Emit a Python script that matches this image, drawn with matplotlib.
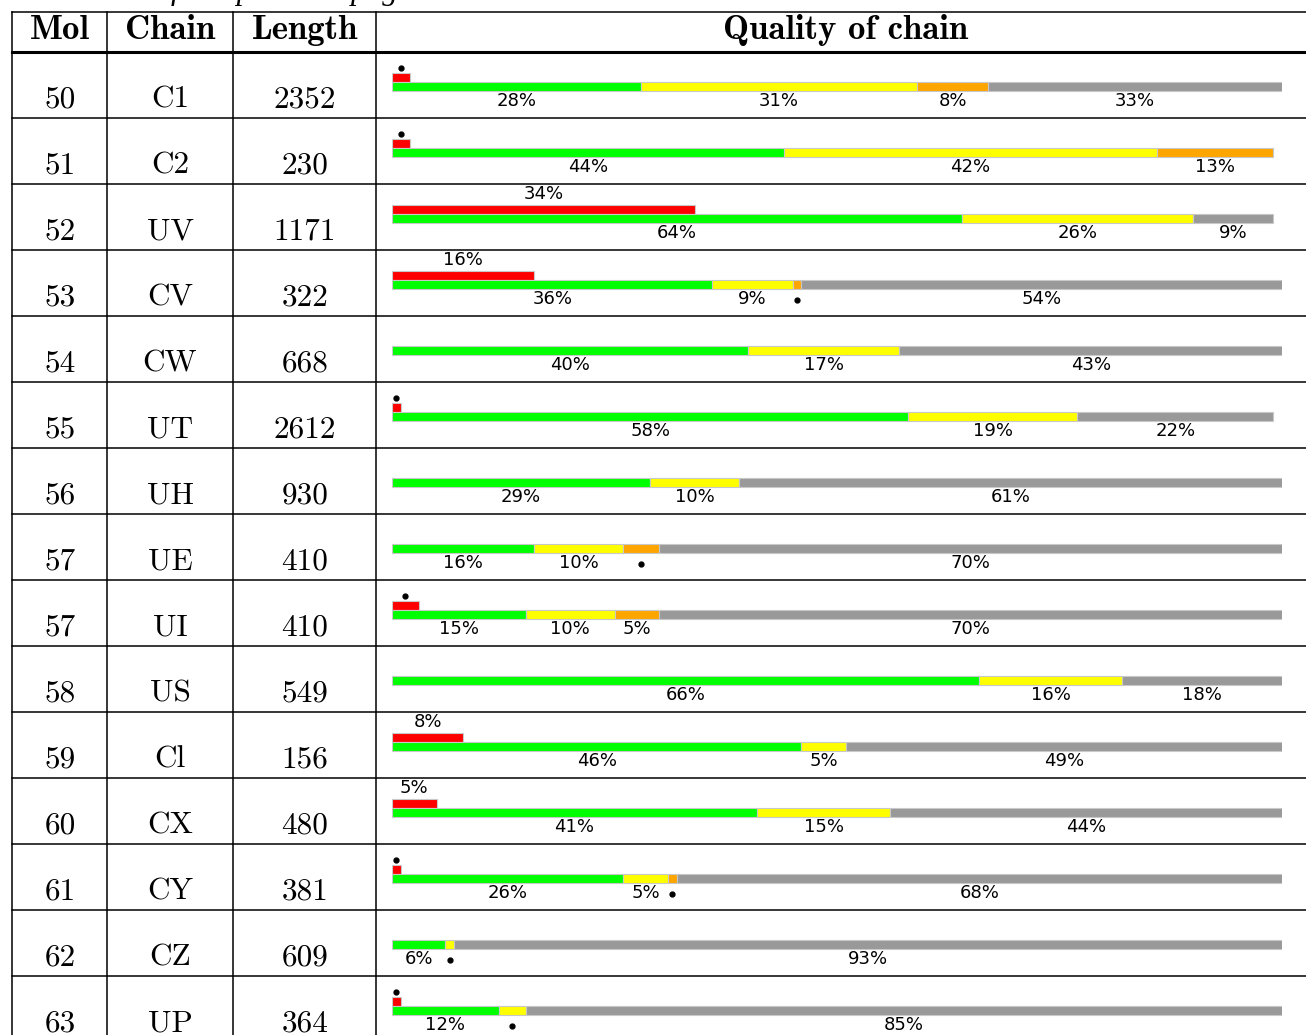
import matplotlib.pyplot as plt
import numpy as np

mols = [50, 51, 52, 53, 54, 55, 56, 57, 57, 58, 59, 60, 61, 62, 63]
chains = ['C1', 'C2', 'UV', 'CV', 'CW', 'UT', 'UH', 'UE', 'UI', 'US', 'Cl', 'CX', 'CY', 'CZ', 'UP']
lengths = [2352, 230, 1171, 322, 668, 2612, 930, 410, 410, 549, 156, 480, 381, 609, 364]

# percentages for each chain
red = [2, 2, 34, 16, 0, 1, 0, 0, 3, 0, 8, 5, 1, 0, 1]
green = [28, 44, 64, 36, 40, 58, 29, 16, 15, 66, 46, 41, 26, 6, 12]
yellow = [31, 42, 26, 9, 17, 19, 10, 10, 10, 16, 5, 15, 5, 1, 3]
orange = [8, 13, 0, 1, 0, 0, 0, 4, 5, 0, 0, 0, 1, 0, 0]
gray = [33, 0, 9, 54, 43, 22, 61, 70, 70, 18, 49, 44, 68, 93, 85]

W, H = 1306, 1035
fig = plt.figure(figsize=(W / 100, H / 100), dpi=100)

# table frame in pixel coordinates
ax = fig.add_axes([0, 0, 1, 1])
ax.set_xlim(0, W)
ax.set_ylim(H, 0)
ax.axis('off')

top, head = 12, 52
pitch = 66
cols = [12, 107, 233, 376]
centers = [60, 170, 305, 846]
nrows = len(mols)
bottom = head + pitch * nrows

ax.plot([12, W], [top, top], color='black', lw=1.1)
ax.plot([12, W], [head, head], color='black', lw=2.2)
for i in range(1, nrows):
    y = head + pitch * i
    ax.plot([12, W], [y, y], color='black', lw=1.1)
for x in cols:
    ax.plot([x, x], [top, bottom], color='black', lw=1.1)

# caption of the previous page, mostly cut off at the top
ax.text(33, -0.8, 'Continued from previous page', family='Liberation Serif', style='italic',
        fontsize=22.5, ha='left', va='baseline')

for c, t in zip(centers, ['Mol', 'Chain', 'Length', 'Quality of chain']):
    ax.text(c, 39, t, family='cmb10', fontsize=25, ha='center', va='baseline')

for i in range(nrows):
    yb = head + pitch * i + 55
    ax.text(centers[0], yb, str(mols[i]), family='cmr10', fontsize=22.5, ha='center', va='baseline')
    ax.text(centers[1], yb, chains[i], family='cmr10', fontsize=22.5, ha='center', va='baseline')
    ax.text(centers[2], yb, str(lengths[i]), family='cmr10', fontsize=22.5, ha='center', va='baseline')

# bars: x in percent, y in rows
bx = fig.add_axes([392 / W, (H - bottom) / H, 890 / W, (bottom - head) / H])
bx.set_xlim(0, 100)
bx.set_ylim(nrows, 0)
bx.axis('off')

bh = 9 / pitch
main_top = 30 / pitch
red_top = 21 / pitch
edge = '#c8c8c8'

segs = [(green, '#00ff00'), (yellow, '#ffff00'), (orange, '#ffa500'), (gray, '#999999')]
rows = np.arange(nrows)

red = np.array(red)
has = red > 0
bx.barh(rows[has] + red_top + bh / 2, red[has], height=bh, color='#ff0000', edgecolor=edge, lw=0.8)
for i in rows:
    if red[i] >= 5:
        bx.text(red[i] / 2, i + 10 / pitch, f'{red[i]}%', ha='center', va='center', fontsize=13)
    elif red[i] > 0:
        bx.plot(red[i] / 2, i + 16 / pitch, 'o', color='black', ms=3.5, clip_on=False)

left = np.zeros(nrows)
for vals, col in segs:
    vals = np.array(vals)
    m = vals > 0
    bx.barh(rows[m] + main_top + bh / 2, vals[m], left=left[m], height=bh, color=col, edgecolor=edge, lw=0.8)
    for i in rows:
        mid = left[i] + vals[i] / 2
        if vals[i] >= 5:
            bx.text(mid, i + 49 / pitch, f'{vals[i]}%', ha='center', va='center', fontsize=13)
        elif vals[i] > 0:
            bx.plot(mid, i + 50 / pitch, 'o', color='black', ms=3.5, clip_on=False)
    left = left + vals

fig.savefig('out.png', dpi=100)
